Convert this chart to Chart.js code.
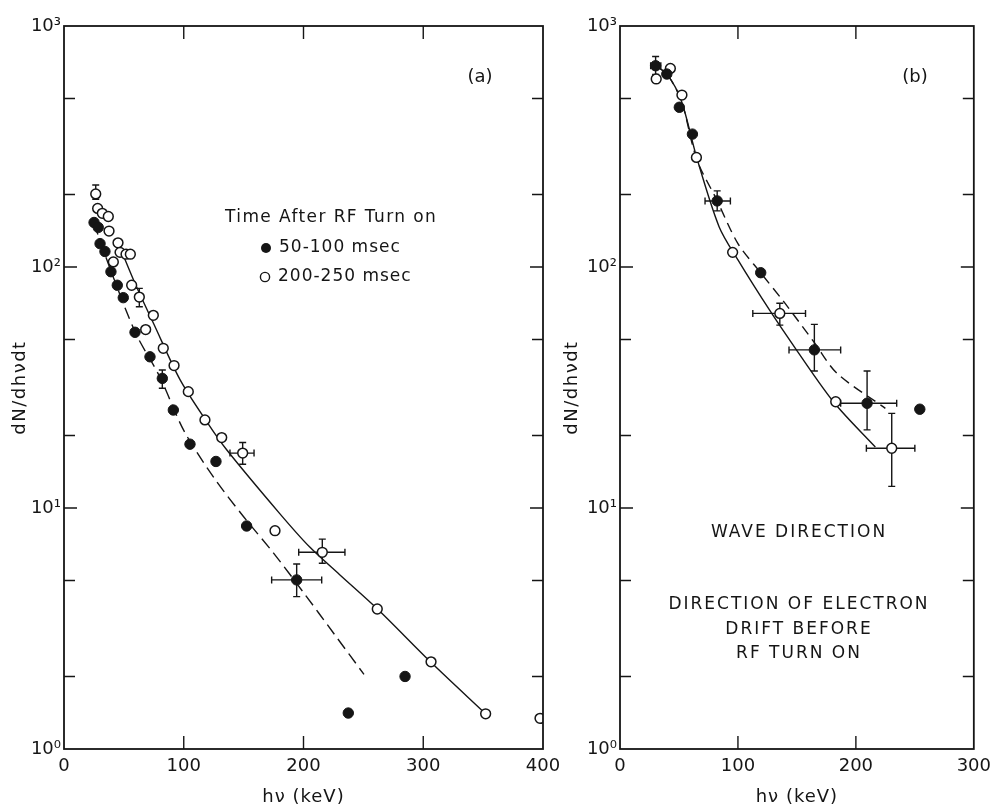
<!DOCTYPE html>
<html><head><meta charset="utf-8">
<script src="https://cdn.jsdelivr.net/npm/chart.js@4"></script>
<style>
html,body{margin:0;padding:0;background:#fff;}
#wrap{position:relative;width:998px;height:805px;background:#fff;}
canvas{position:absolute;left:0;top:0;}
</style></head><body>
<div id="wrap"><canvas id="ca" width="998" height="805"></canvas><canvas id="cb" width="998" height="805"></canvas></div>
<script>
// ---------- Panel (a) data ----------
const aFilledX = [25.1, 28.6, 30.1, 34.2, 39.2, 44.5, 49.5, 59.3, 71.8, 82.1, 91.3, 105.2, 126.9, 152.5, 194.3, 237.4, 284.8];
const aFilledY = [153, 146, 125, 116, 95.6, 84, 74.6, 53.6, 42.4, 34.5, 25.5, 18.4, 15.6, 8.42, 5.03, 1.41, 2.0];
const aOpenX = [26.5, 28.1, 32, 37, 37.6, 41.2, 45.1, 46.8, 51.8, 55.4, 56.5, 62.9, 68.2, 74.6, 82.9, 91.9, 103.8, 117.7, 131.7, 149.2, 176.2, 215.7, 261.6, 306.5, 352.1, 397.5];
const aOpenY = [201, 175, 167, 162, 141, 105, 126, 115, 113, 113, 84, 75, 55, 63, 46, 39, 30.4, 23.2, 19.6, 16.9, 8.05, 6.55, 3.81, 2.30, 1.40, 1.34];
const aDashX = [25, 40, 60, 80, 100, 125, 150, 175, 200, 225, 250.5];
const aDashY = [152, 94, 53, 35, 21, 13.4, 9.2, 6.5, 4.46, 3.03, 2.04];
const aSolidX = [47, 60, 75, 97, 120, 136, 180, 205, 230, 262, 306, 352];
const aSolidY = [120, 84, 58, 34, 22.5, 17.4, 9.5, 6.9, 5.3, 3.8, 2.3, 1.40];
const aErrX   = [26.5, 62.9, 82.1, 149.2, 215.7, 194.3];
const aErrY   = [201, 75, 34.5, 16.9, 6.55, 5.03];
const aErrXLo = [26.5, 62.9, 82.1, 138.6, 196, 173.4];
const aErrXHi = [26.5, 62.9, 82.1, 158.7, 234.6, 215.2];
const aErrYLo = [191, 68.4, 31.4, 15.2, 5.9, 4.29];
const aErrYHi = [219, 81.5, 37.4, 18.7, 7.43, 5.86];

// ---------- Panel (b) data ----------
const bFilledX = [30.2, 39.7, 50.3, 61.4, 82.4, 119.3, 164.8, 209.5, 254.2];
const bFilledY = [684, 632, 460, 356, 188, 94.7, 45.3, 27.2, 25.7];
const bOpenX = [30.7, 42.7, 52.5, 64.8, 95.5, 135.5, 182.9, 230.4];
const bOpenY = [603, 667, 517, 285, 115, 64.2, 27.6, 17.7];
const bSolidX = [30, 40, 52, 65, 84, 100, 127, 150, 182, 216.5];
const bSolidY = [684, 630, 490, 285, 147, 107, 66, 45, 27.2, 17.9];
const bDashX = [30, 40, 52, 65, 82, 100, 119, 140, 165, 184, 225];
const bDashY = [684, 630, 490, 280, 190, 125, 95, 70.6, 48.4, 36.2, 25.9];
const bErrX   = [30.2, 82.4, 135.5, 164.8, 209.5, 230.4];
const bErrY   = [684, 188, 64.2, 45.3, 27.2, 17.7];
const bErrXLo = [26, 72.1, 112.6, 143.3, 187.1, 208.9];
const bErrXHi = [34.6, 93.6, 157.3, 187.1, 234.6, 250];
const bErrYLo = [630, 171, 57.4, 37, 21.1, 12.3];
const bErrYHi = [747, 207, 70.7, 57.8, 37, 24.7];

// ---------- Ticks & labels ----------
const aXTicks = [0, 100, 200, 300, 400];
const bXTicks = [0, 100, 200, 300];
const yTickValues = [1, 10, 100, 1000];
const yTickLabels = ['10\u2070', '10\u00B9', '10\u00B2', '10\u00B3'];
const yMinorFactors = [2, 5];
const yTitle = 'dN/dh\u03BDdt';
const xTitle = 'h\u03BD (keV)';
const legendTitle = 'Time After RF Turn on';
const legendFilled = '50-100 msec';
const legendOpen = '200-250 msec';
const bNotes = ['WAVE DIRECTION', 'DIRECTION OF ELECTRON', 'DRIFT BEFORE', 'RF TURN ON'];

const INK = '#151515';
const FONT = '"DejaVu Sans", sans-serif';

function pts(xs, ys) { return xs.map((x, i) => ({x: x, y: ys[i]})); }

function makeDatasets(fx, fy, ox, oy, dx, dy, sx, sy, dash) {
  return [
    {label: 'filled', data: pts(fx, fy), showLine: false, pointRadius: 5.2, pointBackgroundColor: INK, pointBorderColor: INK, pointBorderWidth: 1},
    {label: 'open', data: pts(ox, oy), showLine: false, pointRadius: 4.9, pointBackgroundColor: '#fff', pointBorderColor: INK, pointBorderWidth: 1.5},
    {label: 'dash', data: pts(dx, dy), showLine: true, pointRadius: 0, borderColor: INK, borderWidth: 1.4, borderDash: dash, tension: 0.3},
    {label: 'solid', data: pts(sx, sy), showLine: true, pointRadius: 0, borderColor: INK, borderWidth: 1.4, tension: 0.3}
  ];
}

function panelPlugin(cfg) {
  return {
    id: 'panel_' + cfg.name,
    beforeDatasetsDraw(chart) {
      const ctx = chart.ctx, xs = chart.scales.x, ys = chart.scales.y;
      ctx.save();
      ctx.strokeStyle = INK; ctx.lineWidth = 1.4;
      const cap = 3.5;
      for (let i = 0; i < cfg.errX.length; i++) {
        const px = xs.getPixelForValue(cfg.errX[i]);
        const py = ys.getPixelForValue(cfg.errY[i]);
        ctx.beginPath();
        if (cfg.errXLo[i] !== cfg.errXHi[i]) {
          const l = xs.getPixelForValue(cfg.errXLo[i]), r = xs.getPixelForValue(cfg.errXHi[i]);
          ctx.moveTo(l, py); ctx.lineTo(r, py);
          ctx.moveTo(l, py - cap); ctx.lineTo(l, py + cap);
          ctx.moveTo(r, py - cap); ctx.lineTo(r, py + cap);
        }
        const t = ys.getPixelForValue(cfg.errYHi[i]), b = ys.getPixelForValue(cfg.errYLo[i]);
        ctx.moveTo(px, t); ctx.lineTo(px, b);
        ctx.moveTo(px - cap, t); ctx.lineTo(px + cap, t);
        ctx.moveTo(px - cap, b); ctx.lineTo(px + cap, b);
        ctx.stroke();
      }
      ctx.restore();
    },
    afterDraw(chart) {
      const ctx = chart.ctx, xs = chart.scales.x, ys = chart.scales.y, a = chart.chartArea;
      ctx.save();
      ctx.strokeStyle = INK; ctx.lineWidth = 1.8;
      ctx.strokeRect(a.left, a.top, a.right - a.left, a.bottom - a.top);
      ctx.lineWidth = 1.4;
      ctx.beginPath();
      cfg.xTicks.forEach(v => {
        if (v === xs.min || v === xs.max) return;
        const p = xs.getPixelForValue(v);
        ctx.moveTo(p, a.bottom); ctx.lineTo(p, a.bottom - 13);
        ctx.moveTo(p, a.top); ctx.lineTo(p, a.top + 13);
      });
      yTickValues.forEach((v, k) => {
        const list = [v];
        if (k < yTickValues.length - 1) yMinorFactors.forEach(f => list.push(v * f));
        list.forEach(w => {
          if (w === ys.min || w === ys.max) return;
          const p = ys.getPixelForValue(w);
          const len = (w === v) ? 13 : 11;
          ctx.moveTo(a.left, p); ctx.lineTo(a.left + len, p);
          ctx.moveTo(a.right, p); ctx.lineTo(a.right - len, p);
        });
      });
      ctx.stroke();

      ctx.fillStyle = INK;
      ctx.font = '18px ' + FONT;
      ctx.textAlign = 'center'; ctx.textBaseline = 'middle';
      ctx.letterSpacing = '1px';
      ctx.fillText(xTitle, (a.left + a.right) / 2, 797);
      ctx.save();
      ctx.translate(cfg.yTitleX, (a.top + a.bottom) / 2);
      ctx.rotate(-Math.PI / 2);
      ctx.letterSpacing = '1.5px';
      ctx.fillText(yTitle, 0, 0);
      ctx.restore();
      ctx.letterSpacing = '0px';
      ctx.font = '18px ' + FONT;
      ctx.fillText(cfg.tag, cfg.tagX, 77);
      if (cfg.draw) cfg.draw(ctx);
      ctx.restore();
    }
  };
}

function makeChart(id, cfg) {
  const tickFont = {family: FONT, size: 18};
  return new Chart(document.getElementById(id), {
    type: 'scatter',
    data: {datasets: cfg.datasets},
    options: {
      responsive: false, animation: false, devicePixelRatio: 1, events: [],
      layout: {padding: cfg.padding},
      plugins: {legend: {display: false}, tooltip: {enabled: false}},
      scales: {
        x: {
          type: 'linear', min: 0, max: cfg.xMax,
          afterBuildTicks: s => { s.ticks = cfg.xTicks.map(v => ({value: v})); },
          grid: {display: false, drawTicks: false}, border: {display: false},
          ticks: {font: tickFont, color: INK, padding: 7, maxRotation: 0, autoSkip: false},
          afterFit: s => { s.height = 56; }
        },
        y: {
          type: 'logarithmic', min: 1, max: 1000,
          afterBuildTicks: s => { s.ticks = yTickValues.map(v => ({value: v})); },
          grid: {display: false, drawTicks: false}, border: {display: false},
          ticks: {font: tickFont, color: INK, padding: 3, autoSkip: false, callback: (v, i) => yTickLabels[i]},
          afterFit: s => { s.width = cfg.yWidth; }
        }
      }
    },
    plugins: [panelPlugin(cfg)]
  });
}

makeChart('ca', {
  name: 'a', xMax: 400, xTicks: aXTicks, yWidth: 64, yTitleX: 20,
  padding: {left: 0, top: 26, right: 455, bottom: 0},
  tag: '(a)', tagX: 480,
  errX: aErrX, errY: aErrY, errXLo: aErrXLo, errXHi: aErrXHi, errYLo: aErrYLo, errYHi: aErrYHi,
  datasets: makeDatasets(aFilledX, aFilledY, aOpenX, aOpenY, aDashX, aDashY, aSolidX, aSolidY, [12, 6]),
  draw(ctx) {
    ctx.font = '17px ' + FONT;
    ctx.textAlign = 'left'; ctx.textBaseline = 'middle';
    ctx.letterSpacing = '1.4px';
    ctx.fillText(legendTitle, 225, 218);
    ctx.letterSpacing = '1px';
    ctx.fillText(legendFilled, 279, 248);
    ctx.fillText(legendOpen, 278, 277);
    ctx.letterSpacing = '0px';
    ctx.beginPath(); ctx.arc(266, 248, 5, 0, Math.PI * 2); ctx.fill();
    ctx.beginPath(); ctx.arc(265, 277, 4.6, 0, Math.PI * 2);
    ctx.fillStyle = '#fff'; ctx.fill(); ctx.lineWidth = 1.4; ctx.strokeStyle = INK; ctx.stroke();
  }
});

makeChart('cb', {
  name: 'b', xMax: 300, xTicks: bXTicks, yWidth: 60, yTitleX: 572,
  padding: {left: 560, top: 26, right: 20, bottom: 0},
  tag: '(b)', tagX: 915,
  errX: bErrX, errY: bErrY, errXLo: bErrXLo, errXHi: bErrXHi, errYLo: bErrYLo, errYHi: bErrYHi,
  datasets: makeDatasets(bFilledX, bFilledY, bOpenX, bOpenY, bDashX, bDashY, bSolidX, bSolidY, [10, 6]),
  draw(ctx) {
    ctx.font = '17px ' + FONT;
    ctx.textAlign = 'center'; ctx.textBaseline = 'middle';
    ctx.letterSpacing = '2px';
    const ys = [533, 605, 630, 654];
    bNotes.forEach((t, i) => ctx.fillText(t, 799, ys[i]));
    ctx.letterSpacing = '0px';
  }
});
</script>
</body></html>
